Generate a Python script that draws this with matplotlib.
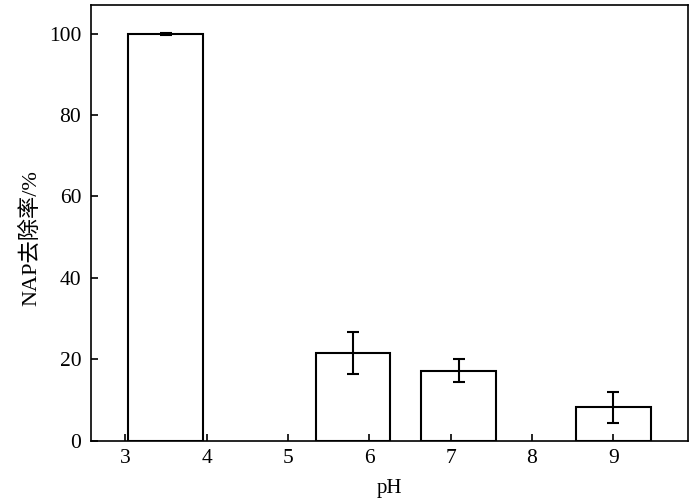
import matplotlib
matplotlib.use('Agg')
import matplotlib.pyplot as plt

# 数据
ph_pos = [3.5, 5.8, 7.1, 9.0]
removal = [99.9, 21.5, 17.2, 8.2]
err = [0.15, 5.2, 2.8, 3.9]
xticks = [3, 4, 5, 6, 7, 8, 9]
yticks = [0, 20, 40, 60, 80, 100]

plt.rcParams['font.family'] = ['Liberation Serif', 'Noto Sans CJK SC']
plt.rcParams['font.size'] = 14

fig = plt.figure(figsize=(7, 5.01), dpi=100)
ax = fig.add_axes([0.13, 0.12, 0.853, 0.87])

ax.bar(ph_pos, removal, width=0.92, color='white', edgecolor='black', linewidth=1.5,
       yerr=err, error_kw={'ecolor': 'black', 'elinewidth': 1.5, 'capsize': 4, 'capthick': 1.5})

ax.set_xlim(2.58, 9.92)
ax.set_ylim(0, 107)
ax.set_xticks(xticks)
ax.set_yticks(yticks)
ax.tick_params(direction='in', length=5, width=1.2, top=False, right=False, labelsize=15.5)
ax.tick_params(axis='y', pad=7)
ax.tick_params(axis='x', pad=6)
for s in ax.spines.values():
    s.set_linewidth(1.2)

ax.set_xlabel('pH', fontsize=15, labelpad=8)
ax.set_ylabel('NAP去除率/%', fontsize=16)
ax.yaxis.set_label_coords(-0.083, 0.465)

plt.savefig('out.png', dpi=100)
